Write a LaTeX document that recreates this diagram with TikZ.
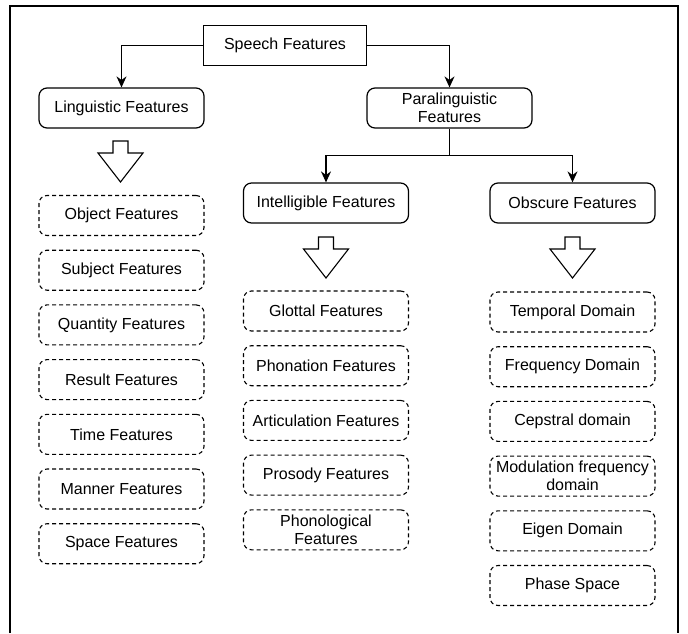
\documentclass[tikz,border=0pt]{standalone}
\usepackage{fontspec}
\setmainfont{Liberation Sans}
\usetikzlibrary{arrows.meta}
\tikzset{
  hollowarrow/.pic={
    \draw[line width=1.1pt, line join=miter, fill=white]
      (-7.5,0) -- (7.5,0) -- (7.5,12) -- (22.5,12) -- (0,41) -- (-22.5,12) -- (-7.5,12) -- cycle;
  }
}
\begin{document}
\begin{tikzpicture}[x=1pt, y=-1pt,
  every node/.style={font=\fontsize{16}{18}\selectfont, align=center, inner sep=0pt},
  plainbox/.style={draw, line width=1.2pt, minimum width=163pt, minimum height=40pt},
  roundbox/.style={draw, line width=1.2pt, rounded corners=8pt, minimum width=165pt, minimum height=40pt},
  dashbox/.style={draw, line width=1.1pt, dash pattern=on 4pt off 3pt, rounded corners=8pt,
                  minimum width=165pt, minimum height=40pt},
  link/.style={line width=1.2pt, -{Stealth[length=11pt, width=10pt]}},
  frame/.style={line width=1.2pt}
]
\useasboundingbox (0,0) rectangle (688,633);

% outer frame, open at the bottom
\draw[frame] (10,633) -- (10,6) -- (678,6) -- (678,633);

% top of the hierarchy
\node[plainbox] (speech) at (285,45.5) {Speech Features};
\node[roundbox] (ling) at (121.5,108) {Linguistic Features};
\node[roundbox] (para) at (449.5,108) {Paralinguistic\\Features};
\node[roundbox] (intel) at (326,203) {Intelligible Features};
\node[roundbox] (obsc) at (572.5,203) {Obscure Features};

\draw[link] (speech.west) -| (ling.north);
\draw[link] (speech.east) -| (para.north);
\draw[line width=1.2pt] (para.south) -- ++(0,27) coordinate (split);
\draw[link] (split) -| (intel.north);
\draw[link] (split) -| (obsc.north);

% hollow block arrows
\pic at (120.5,141) {hollowarrow};
\pic at (326,237) {hollowarrow};
\pic at (572.5,237) {hollowarrow};

% linguistic features
\node[dashbox] (obj)   at (121.5,215.5) {Object Features};
\node[dashbox] (subj)  at (121.5,270.2) {Subject Features};
\node[dashbox] (quant) at (121.5,324.9) {Quantity Features};
\node[dashbox] (res)   at (121.5,379.6) {Result Features};
\node[dashbox] (time)  at (121.5,434.3) {Time Features};
\node[dashbox] (mann)  at (121.5,489.0) {Manner Features};
\node[dashbox] (space) at (121.5,543.7) {Space Features};

% intelligible features
\node[dashbox] (glot)  at (326,311.0) {Glottal Features};
\node[dashbox] (phon)  at (326,365.7) {Phonation Features};
\node[dashbox] (artic) at (326,420.4) {Articulation Features};
\node[dashbox] (pros)  at (326,475.1) {Prosody Features};
\node[dashbox] (phonl) at (326,529.8) {Phonological\\Features};

% obscure features
\node[dashbox] (temp)  at (572.5,312.0) {Temporal Domain};
\node[dashbox] (freq)  at (572.5,366.7) {Frequency Domain};
\node[dashbox] (ceps)  at (572.5,421.4) {Cepstral domain};
\node[dashbox] (modf)  at (572.5,476.1) {Modulation frequency\\domain};
\node[dashbox] (eigen) at (572.5,530.8) {Eigen Domain};
\node[dashbox] (phase) at (572.5,585.5) {Phase Space};
\end{tikzpicture}
\end{document}
